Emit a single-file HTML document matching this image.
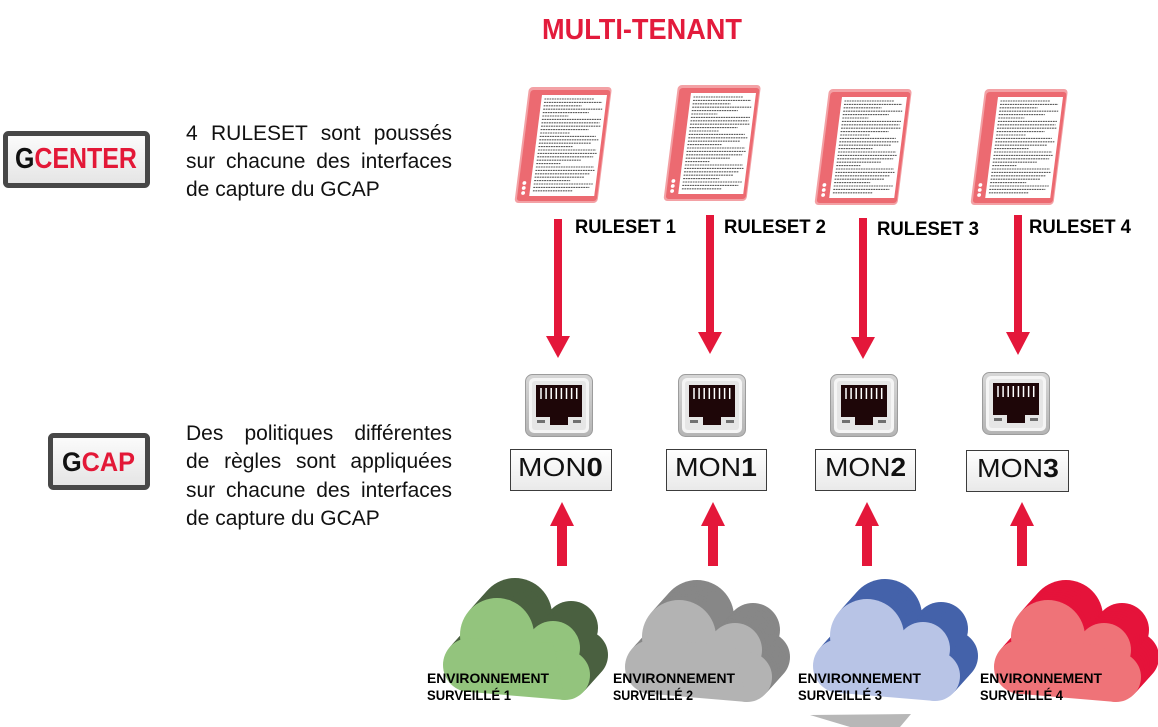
<!DOCTYPE html>
<html>
<head>
<meta charset="utf-8">
<style>
  html, body { margin:0; padding:0; background:#fff; }
  body { width:1158px; height:727px; position:relative; overflow:hidden; font-family:"Liberation Sans", Arial, sans-serif; }
  svg { position:absolute; left:0; top:0; }
  .para { position:absolute; left:186px; width:266px; font-size:21px; line-height:28px; color:#111; font-family:"Liberation Sans", Arial, sans-serif; }
  .para div { white-space:nowrap; text-align:justify; text-align-last:justify; }
  .para div.last { text-align:left; text-align-last:left; }
</style>
</head>
<body>
<svg width="1158" height="727" viewBox="0 0 1158 727" xmlns="http://www.w3.org/2000/svg">
  <defs>
    <linearGradient id="boxg" x1="0" y1="0" x2="0" y2="1">
      <stop offset="0" stop-color="#fcfcfc"/>
      <stop offset="1" stop-color="#e4e4e4"/>
    </linearGradient>
    <linearGradient id="mong" x1="0" y1="0" x2="0" y2="1">
      <stop offset="0" stop-color="#ffffff"/>
      <stop offset="1" stop-color="#e9e9e9"/>
    </linearGradient>
    <linearGradient id="rjo" x1="0" y1="0" x2="0" y2="1">
      <stop offset="0" stop-color="#d6d6d6"/>
      <stop offset="1" stop-color="#b4b4b4"/>
    </linearGradient>
    <g id="doc">
      <rect x="0" y="0" width="83" height="116" rx="4" fill="#f3a1a5"/>
      <rect x="2" y="3" width="80" height="111" rx="3" fill="#ec6a71"/>
      <rect x="14" y="8" width="65" height="101" fill="#ffffff"/>
      <g stroke="#5a5a5a" stroke-width="1.1" stroke-dasharray="1.8 0.7" fill="none">
        <line x1="17" y1="12" x2="67" y2="12"/>
        <line x1="17" y1="15.4" x2="75" y2="15.4"/>
        <line x1="17" y1="18.8" x2="55" y2="18.8"/>
        <line x1="17" y1="22.2" x2="76" y2="22.2"/>
        <line x1="17" y1="25.6" x2="63" y2="25.6"/>
        <line x1="17" y1="29" x2="43" y2="29"/>
        <line x1="17" y1="32.4" x2="76" y2="32.4"/>
        <line x1="17" y1="35.8" x2="75" y2="35.8"/>
        <line x1="17" y1="39.2" x2="77" y2="39.2"/>
        <line x1="17" y1="42.6" x2="65" y2="42.6"/>
        <line x1="17" y1="46" x2="47" y2="46"/>
        <line x1="17" y1="49.4" x2="73" y2="49.4"/>
        <line x1="17" y1="52.8" x2="76" y2="52.8"/>
        <line x1="17" y1="56.2" x2="69" y2="56.2"/>
        <line x1="17" y1="59.6" x2="51" y2="59.6"/>
        <line x1="17" y1="63" x2="75" y2="63"/>
        <line x1="17" y1="66.4" x2="76" y2="66.4"/>
        <line x1="17" y1="69.8" x2="73" y2="69.8"/>
        <line x1="17" y1="73.2" x2="61" y2="73.2"/>
        <line x1="17" y1="76.6" x2="41" y2="76.6"/>
        <line x1="17" y1="80" x2="75" y2="80"/>
        <line x1="17" y1="83.4" x2="76" y2="83.4"/>
        <line x1="17" y1="86.8" x2="72" y2="86.8"/>
        <line x1="17" y1="90.2" x2="67" y2="90.2"/>
        <line x1="17" y1="93.6" x2="53" y2="93.6"/>
        <line x1="17" y1="97" x2="76" y2="97"/>
        <line x1="17" y1="100.4" x2="73" y2="100.4"/>
        <line x1="17" y1="103.8" x2="57" y2="103.8"/>
      </g>
      <circle cx="7.5" cy="96" r="1.9" fill="#fff"/>
      <circle cx="7.5" cy="101" r="1.9" fill="#fff"/>
      <circle cx="7.5" cy="106" r="1.9" fill="#fff"/>
    </g>
    <g id="rj">
      <rect x="0.5" y="0.5" width="67" height="62" rx="7" fill="url(#rjo)" stroke="#9c9c9c"/>
      <rect x="4" y="4" width="60" height="55" rx="5" fill="#f5f5f5"/>
      <rect x="7" y="7" width="54" height="49" rx="3" fill="#e6e6e6"/>
      <path d="M11 11H57V43H43V51H25V43H11Z" fill="#1e0608"/>
      <g stroke="#ffffff" stroke-width="1.5">
        <line x1="16" y1="14" x2="16" y2="25"/>
        <line x1="21.1" y1="14" x2="21.1" y2="25"/>
        <line x1="26.2" y1="14" x2="26.2" y2="25"/>
        <line x1="31.3" y1="14" x2="31.3" y2="25"/>
        <line x1="36.4" y1="14" x2="36.4" y2="25"/>
        <line x1="41.5" y1="14" x2="41.5" y2="25"/>
        <line x1="46.6" y1="14" x2="46.6" y2="25"/>
        <line x1="51.7" y1="14" x2="51.7" y2="25"/>
      </g>
      <rect x="12" y="46" width="8" height="3" fill="#707070"/>
      <rect x="48" y="46" width="8" height="3" fill="#707070"/>
    </g>
    <g id="cs">
      <circle cx="54" cy="37" r="37"/>
      <circle cx="27" cy="67" r="27"/>
      <circle cx="110" cy="50" r="27"/>
      <circle cx="122" cy="77" r="25"/>
      <polygon points="27,94 27,40 110,45 122,102"/>
    </g>
    <g id="ext">
      <use href="#cs" x="18" y="-20"/>
      <use href="#cs" x="16.2" y="-18"/>
      <use href="#cs" x="14.4" y="-16"/>
      <use href="#cs" x="12.6" y="-14"/>
      <use href="#cs" x="10.8" y="-12"/>
      <use href="#cs" x="9" y="-10"/>
      <use href="#cs" x="7.2" y="-8"/>
      <use href="#cs" x="5.4" y="-6"/>
      <use href="#cs" x="3.6" y="-4"/>
      <use href="#cs" x="1.8" y="-2"/>
    </g>
  </defs>

  <!-- Title -->
  <text x="542" y="39" font-family="Liberation Sans, Arial, sans-serif" font-weight="bold" font-size="29" fill="#e31b3c" textLength="200" lengthAdjust="spacingAndGlyphs">MULTI-TENANT</text>

  <!-- GCENTER box -->
  <rect x="5.5" y="133.5" width="142" height="52" rx="3" fill="url(#boxg)" stroke="#474747" stroke-width="5"/>
  <g transform="translate(15,168) scale(0.86,1)">
    <text x="0" y="0" font-family="Liberation Sans, Arial, sans-serif" font-weight="bold" font-size="29"><tspan fill="#111">G</tspan><tspan fill="#e31837">CENTER</tspan></text>
  </g>

  <!-- GCAP box -->
  <rect x="50.5" y="435.5" width="97" height="52" rx="3" fill="url(#boxg)" stroke="#474747" stroke-width="5"/>
  <g transform="translate(62,471) scale(0.936,1)">
    <text x="0" y="0" font-family="Liberation Sans, Arial, sans-serif" font-weight="bold" font-size="27"><tspan fill="#111">G</tspan><tspan fill="#e31837">CAP</tspan></text>
  </g>

  <!-- Documents -->
  <use href="#doc" transform="translate(529,87) skewX(-7.2)"/>
  <use href="#doc" transform="translate(678,85) skewX(-7.2)"/>
  <use href="#doc" transform="translate(829,89) skewX(-7.2)"/>
  <use href="#doc" transform="translate(985,89) skewX(-7.2)"/>

  <!-- Down arrows -->
  <g fill="#e4173a">
    <rect x="554" y="219" width="8" height="118"/>
    <polygon points="546,336 570,336 558,358"/>
    <rect x="706" y="215" width="8" height="118"/>
    <polygon points="698,332 722,332 710,354"/>
    <rect x="859" y="218" width="8" height="120"/>
    <polygon points="851,337 875,337 863,359"/>
    <rect x="1014" y="215" width="8" height="118"/>
    <polygon points="1006,332 1030,332 1018,355"/>
  </g>

  <!-- RULESET labels -->
  <g font-family="Liberation Sans, Arial, sans-serif" font-weight="bold" font-size="19" fill="#000">
    <text x="575" y="233" textLength="101" lengthAdjust="spacingAndGlyphs">RULESET 1</text>
    <text x="724" y="233" textLength="102" lengthAdjust="spacingAndGlyphs">RULESET 2</text>
    <text x="877" y="235" textLength="102" lengthAdjust="spacingAndGlyphs">RULESET 3</text>
    <text x="1029" y="233" textLength="102" lengthAdjust="spacingAndGlyphs">RULESET 4</text>
  </g>

  <!-- RJ45 icons -->
  <use href="#rj" x="525" y="374"/>
  <use href="#rj" x="678" y="374"/>
  <use href="#rj" x="830" y="374"/>
  <use href="#rj" x="982" y="372"/>

  <!-- MON boxes -->
  <rect x="510.5" y="449.5" width="101" height="41" fill="url(#mong)" stroke="#3c3c3c" stroke-width="1"/>
  <rect x="666.5" y="449.5" width="100" height="41" fill="url(#mong)" stroke="#3c3c3c" stroke-width="1"/>
  <rect x="815.5" y="449.5" width="100" height="41" fill="url(#mong)" stroke="#3c3c3c" stroke-width="1"/>
  <rect x="966.5" y="450.5" width="102" height="41" fill="url(#mong)" stroke="#3c3c3c" stroke-width="1"/>
  <g font-family="Liberation Sans, Arial, sans-serif" font-size="26" fill="#111">
    <g transform="translate(518,476) scale(1.13,1)"><text x="0" y="0">MON<tspan font-weight="bold">0</tspan></text></g>
    <g transform="translate(675,476) scale(1.09,1)"><text x="0" y="0">MON<tspan font-weight="bold">1</tspan></text></g>
    <g transform="translate(825,476) scale(1.08,1)"><text x="0" y="0">MON<tspan font-weight="bold">2</tspan></text></g>
    <g transform="translate(977,477) scale(1.09,1)"><text x="0" y="0">MON<tspan font-weight="bold">3</tspan></text></g>
  </g>

  <!-- Up arrows -->
  <g fill="#e4173a">
    <polygon points="562,502 574,526 550,526"/>
    <rect x="557" y="525" width="10" height="41"/>
    <polygon points="713,502 725,526 701,526"/>
    <rect x="708" y="525" width="10" height="41"/>
    <polygon points="867,502 879,526 855,526"/>
    <rect x="862" y="525" width="10" height="41"/>
    <polygon points="1022,502 1034,526 1010,526"/>
    <rect x="1017" y="525" width="10" height="41"/>
  </g>

  <!-- Shadow under cloud 3 -->
  <polygon points="810,715 911,714 900,727 850,727" fill="#b7b7b7"/>

  <!-- Clouds -->
  <g transform="translate(443,598)">
    <use href="#ext" fill="#4a6040"/>
    <use href="#cs" fill="#93c47d"/>
  </g>
  <g transform="translate(625,600)">
    <use href="#ext" fill="#878787"/>
    <use href="#cs" fill="#b3b3b3"/>
  </g>
  <g transform="translate(813,599)">
    <use href="#ext" fill="#4462aa"/>
    <use href="#cs" fill="#b8c4e6"/>
  </g>
  <g transform="translate(994,600)">
    <use href="#ext" fill="#e5133a"/>
    <use href="#cs" fill="#ef7378"/>
  </g>

  <!-- Cloud labels -->
  <g font-family="Liberation Sans, Arial, sans-serif" font-weight="bold" font-size="14" fill="#000">
    <text x="427" y="683" textLength="122" lengthAdjust="spacingAndGlyphs">ENVIRONNEMENT</text>
    <text x="427" y="700" textLength="84" lengthAdjust="spacingAndGlyphs">SURVEILLÉ 1</text>
    <text x="613" y="683" textLength="122" lengthAdjust="spacingAndGlyphs">ENVIRONNEMENT</text>
    <text x="613" y="700" textLength="80" lengthAdjust="spacingAndGlyphs">SURVEILLÉ 2</text>
    <text x="798" y="683" textLength="123" lengthAdjust="spacingAndGlyphs">ENVIRONNEMENT</text>
    <text x="798" y="700" textLength="84" lengthAdjust="spacingAndGlyphs">SURVEILLÉ 3</text>
    <text x="980" y="683" textLength="122" lengthAdjust="spacingAndGlyphs">ENVIRONNEMENT</text>
    <text x="980" y="700" textLength="83" lengthAdjust="spacingAndGlyphs">SURVEILLÉ 4</text>
  </g>
</svg>

<div class="para" style="top:120px;">
  <div>4 RULESET sont poussés</div>
  <div>sur chacune des interfaces</div>
  <div class="last">de capture du GCAP</div>
</div>

<div class="para" style="top:420px; line-height:28.4px;">
  <div>Des politiques différentes</div>
  <div>de règles sont appliquées</div>
  <div>sur chacune des interfaces</div>
  <div class="last">de capture du GCAP</div>
</div>
</body>
</html>
